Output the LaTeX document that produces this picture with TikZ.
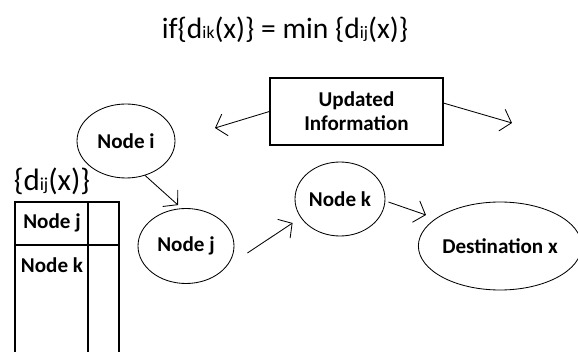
\documentclass[tikz,border=0pt]{standalone}
\usepackage{fontspec}
\setmainfont{Carlito}
\usetikzlibrary{arrows.meta,shapes.geometric}
\newcommand{\idxsmall}[2]{{\fontsize{#1}{#1}\selectfont #2}}

\begin{document}
\begin{tikzpicture}
        [node_style/.style={ellipse,draw=black,line width=0.6pt,inner sep=0pt,font=\fontsize{15}{17}\selectfont\bfseries},
         box_style/.style={rectangle,draw=black,line width=0.9pt,align=center,font=\fontsize{15}{17}\selectfont\bfseries},
         text_style/.style={font=\fontsize{15}{17}\selectfont\bfseries},
         table_style/.style={draw=black,line width=1.2pt},
         edge_style/.style={draw=black,line width=0.6pt,-{Straight Barb[length=7pt,width=16pt]}}]
            \useasboundingbox (0,0) rectangle (14.45,8.8);
            \clip (0,0) rectangle (14.45,8.8);
            % condition on top
            \node[font=\fontsize{21}{24}\selectfont] (cond) at (7.125,8.06) {if\{d\idxsmall{12.5}{ik}(x)\} = min \{d\idxsmall{12.5}{ij}(x)\}};
            \node[box_style,minimum width=4.325cm,minimum height=1.675cm] (info) at (8.9125,6.0125) {Updated\\Information};
            \coordinate (left_end) at (5.375,5.6);
            \coordinate (right_end) at (12.8,5.725);
            \node[node_style,minimum width=2.45cm,minimum height=1.85cm] (ni) at (3.15,5.275) {Node i};
            \node[node_style,minimum width=2.4cm,minimum height=1.875cm] (nj) at (4.65,2.65) {Node j};
            \node[node_style,minimum width=2.25cm,minimum height=1.85cm] (nk) at (8.5,3.825) {Node k};
            \node[node_style,minimum width=3.75cm,minimum height=2.2cm] (dest) at (12.5,2.65) {Destination x};
            \draw[edge_style] (info.west) -- (left_end);
            \draw[edge_style] ([yshift=0.21cm]info.east) -- (right_end);
            \draw[edge_style] (ni.-61) -- ([xshift=-0.2cm,yshift=0.075cm]nj.north);
            \draw[edge_style] ([xshift=0.325cm,yshift=-0.175cm]nj.east) -- ([xshift=-0.05cm,yshift=-0.6cm]nk.west);
            \draw[edge_style] ([xshift=0.075cm,yshift=-0.075cm]nk.east) -- ([xshift=0.2cm,yshift=0.775cm]dest.west);
            % routing table of node i
            \node[font=\fontsize{22}{24}\selectfont] (dij) at (1.3,4.275) {\{d\idxsmall{13}{ij}(x)\}};
            \draw[table_style] (0.375,-0.2) rectangle (2.975,3.75);
            \draw[table_style] (2.2,-0.2) -- (2.2,3.75);
            \draw[table_style] (0.375,2.675) -- (2.975,2.675);
            \node[text_style] (tj) at (1.3,3.225) {Node j};
            \node[text_style] (tk) at (1.3,2.175) {Node k};
        \end{tikzpicture}
\end{document}
